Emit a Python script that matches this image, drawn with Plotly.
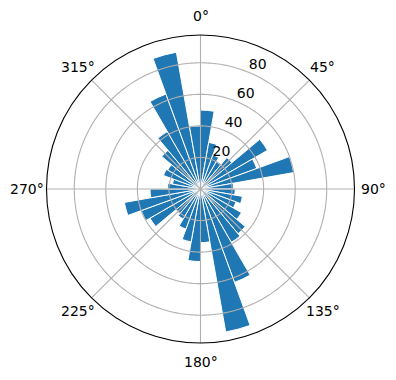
import numpy as np
import plotly.graph_objects as go

# Bar centres (compass degrees, clockwise from north) and bar lengths
directions = [5, 15, 25, 35, 45, 55, 65, 75, 85,
              95, 105, 115, 125, 135, 145, 155, 165, 175,
              185, 195, 205, 215, 225, 235, 245, 255, 265,
              275, 285, 295, 305, 315, 325, 335, 345, 355]
values = [50, 30, 23, 20, 26, 49, 38, 60, 21,
          22, 27, 24, 30, 37, 39, 63, 92, 34,
          46, 34, 27, 22, 20, 37, 40, 49, 32,
          21, 18, 25, 24, 32, 42, 64, 88, 40]
bar_width = 10

angle_ticks = [0, 45, 90, 135, 180, 225, 270, 315]
angle_labels = [f"{a}°" for a in angle_ticks]
radial_ticks = [20, 40, 60, 80]
radial_labels = ["20", "40", "60", "80"]
r_max = 97.6
radial_label_angle = 22.5

W, H = 396, 380
M = dict(l=46, r=41, t=35, b=37)
grid_color = "#b0b0b0"

fig = go.Figure()
fig.add_trace(go.Barpolar(
    r=values, theta=directions, width=[bar_width] * len(values),
    marker=dict(color="#1f77b4", line=dict(color="white", width=1)),
    hoverinfo="skip", showlegend=False))

# grid drawn above the bars (matplotlib default draws grid over patches)
circle_theta = np.linspace(0, 360, 361)
for rv in radial_ticks:
    fig.add_trace(go.Scatterpolar(r=[rv] * len(circle_theta), theta=circle_theta, mode="lines",
                                  line=dict(color=grid_color, width=1.1),
                                  hoverinfo="skip", showlegend=False))
for a in angle_ticks:
    fig.add_trace(go.Scatterpolar(r=[0, r_max], theta=[a, a], mode="lines",
                                  line=dict(color=grid_color, width=1.1),
                                  hoverinfo="skip", showlegend=False))

# radial labels
fig.add_trace(go.Scatterpolar(r=radial_ticks, theta=[radial_label_angle] * len(radial_ticks),
                              mode="text", text=radial_labels, textposition="top right",
                              textfont=dict(family="DejaVu Sans", size=14, color="black"),
                              cliponaxis=False, hoverinfo="skip", showlegend=False))

# angle labels centred on their direction, outside the frame (like matplotlib)
pw, ph = W - M["l"] - M["r"], H - M["t"] - M["b"]
R = min(pw, ph) / 2
label_offset = 19  # px outside the frame
annotations = []
for a, txt in zip(angle_ticks, angle_labels):
    rad = np.deg2rad(a)
    dx = (R + label_offset) * np.sin(rad)
    dy = (R + label_offset) * np.cos(rad)
    annotations.append(dict(x=0.5 + dx / pw, y=0.5 + dy / ph, xref="paper", yref="paper",
                            text=txt, showarrow=False, xanchor="center", yanchor="middle",
                            font=dict(family="DejaVu Sans", size=14, color="black")))

fig.update_layout(
    width=W, height=H,
    margin=M,
    paper_bgcolor="white", plot_bgcolor="white",
    font=dict(family="DejaVu Sans", size=14, color="black"),
    annotations=annotations,
    polar=dict(
        bgcolor="white",
        angularaxis=dict(rotation=90, direction="clockwise",
                         tickmode="array", tickvals=angle_ticks,
                         showgrid=False, showline=True, linecolor="black", linewidth=1.1,
                         ticks="", showticklabels=False),
        radialaxis=dict(range=[0, r_max], tickmode="array", tickvals=radial_ticks,
                        showgrid=False, showline=False, ticks="", showticklabels=False),
    ),
)
fig.write_html("out.html")
